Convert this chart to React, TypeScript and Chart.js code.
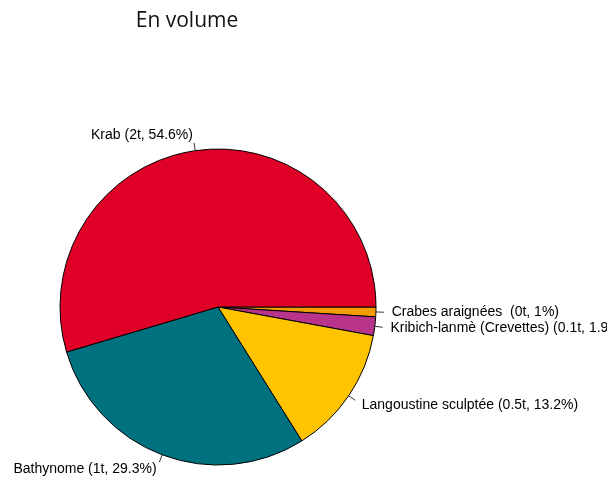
import React, { useEffect, useRef } from "react";
import { Chart, registerables } from "chart.js";

Chart.register(...registerables);

const title = "En volume";
const categories = ["Krab", "Bathynome", "Langoustine sculptée", "Kribich-lanmè (Crevettes)", "Crabes araignées "];
const tonnes = ["2t", "1t", "0.5t", "0.1t", "0t"];
const percents = [54.6, 29.3, 13.2, 1.9, 1];
const colors = ["#E00027", "#00717F", "#FFC300", "#B8338A", "#F39C00"];

const labelTexts = categories.map((c, i) => `${c} (${tonnes[i]}, ${percents[i]}%)`);

const pieLabels = {
  id: "pieLabels",
  afterDraw(chart: any) {
    const ctx = chart.ctx;
    const meta = chart.getDatasetMeta(0);
    const texts = chart.data.labels as string[];
    ctx.save();
    meta.data.forEach((arc: any, i: number) => {
      const { x, y, startAngle, endAngle, outerRadius } = arc.getProps(["x", "y", "startAngle", "endAngle", "outerRadius"], true);
      const mid = (startAngle + endAngle) / 2;
      const c = Math.cos(mid);
      const s = Math.sin(mid);
      ctx.strokeStyle = "#333";
      ctx.lineWidth = 1;
      ctx.beginPath();
      ctx.moveTo(x + outerRadius * c, y + outerRadius * s);
      ctx.lineTo(x + outerRadius * 1.05 * c, y + outerRadius * 1.05 * s);
      ctx.stroke();
      ctx.fillStyle = "#000";
      ctx.font = "14px 'Liberation Sans', Arial, sans-serif";
      ctx.textBaseline = "middle";
      ctx.textAlign = c < 0 ? "right" : "left";
      ctx.fillText(texts[i], x + outerRadius * 1.1 * c, y + outerRadius * 1.1 * s);
    });
    ctx.fillStyle = "#111";
    ctx.font = "21px 'Open Sans', sans-serif";
    ctx.textAlign = "center";
    ctx.textBaseline = "alphabetic";
    ctx.fillText(title, 187, 27);
    ctx.restore();
  },
};

export default function App() {
  const ref = useRef<HTMLCanvasElement | null>(null);
  useEffect(() => {
    if (!ref.current) return;
    const order = [4, 3, 2, 1, 0];
    const chart = new Chart(ref.current, {
      type: "pie",
      data: {
        labels: order.map((i) => labelTexts[i]),
        datasets: [
          {
            data: order.map((i) => percents[i]),
            backgroundColor: order.map((i) => colors[i]),
            borderColor: "#000",
            borderWidth: 1,
          },
        ],
      },
      options: {
        responsive: false,
        animation: false,
        rotation: 90,
        layout: { padding: { left: 59.5, right: 230.5, top: 148.5, bottom: 18.5 } },
        plugins: { legend: { display: false }, tooltip: { enabled: false }, title: { display: false } },
      },
      plugins: [pieLabels],
    });
    return () => chart.destroy();
  }, []);
  return (
    <div style={{ position: "fixed", left: 0, top: 0, width: 607, height: 484, background: "#fff" }}>
      <canvas ref={ref} width={607} height={484} style={{ width: 607, height: 484 }} />
    </div>
  );
}
